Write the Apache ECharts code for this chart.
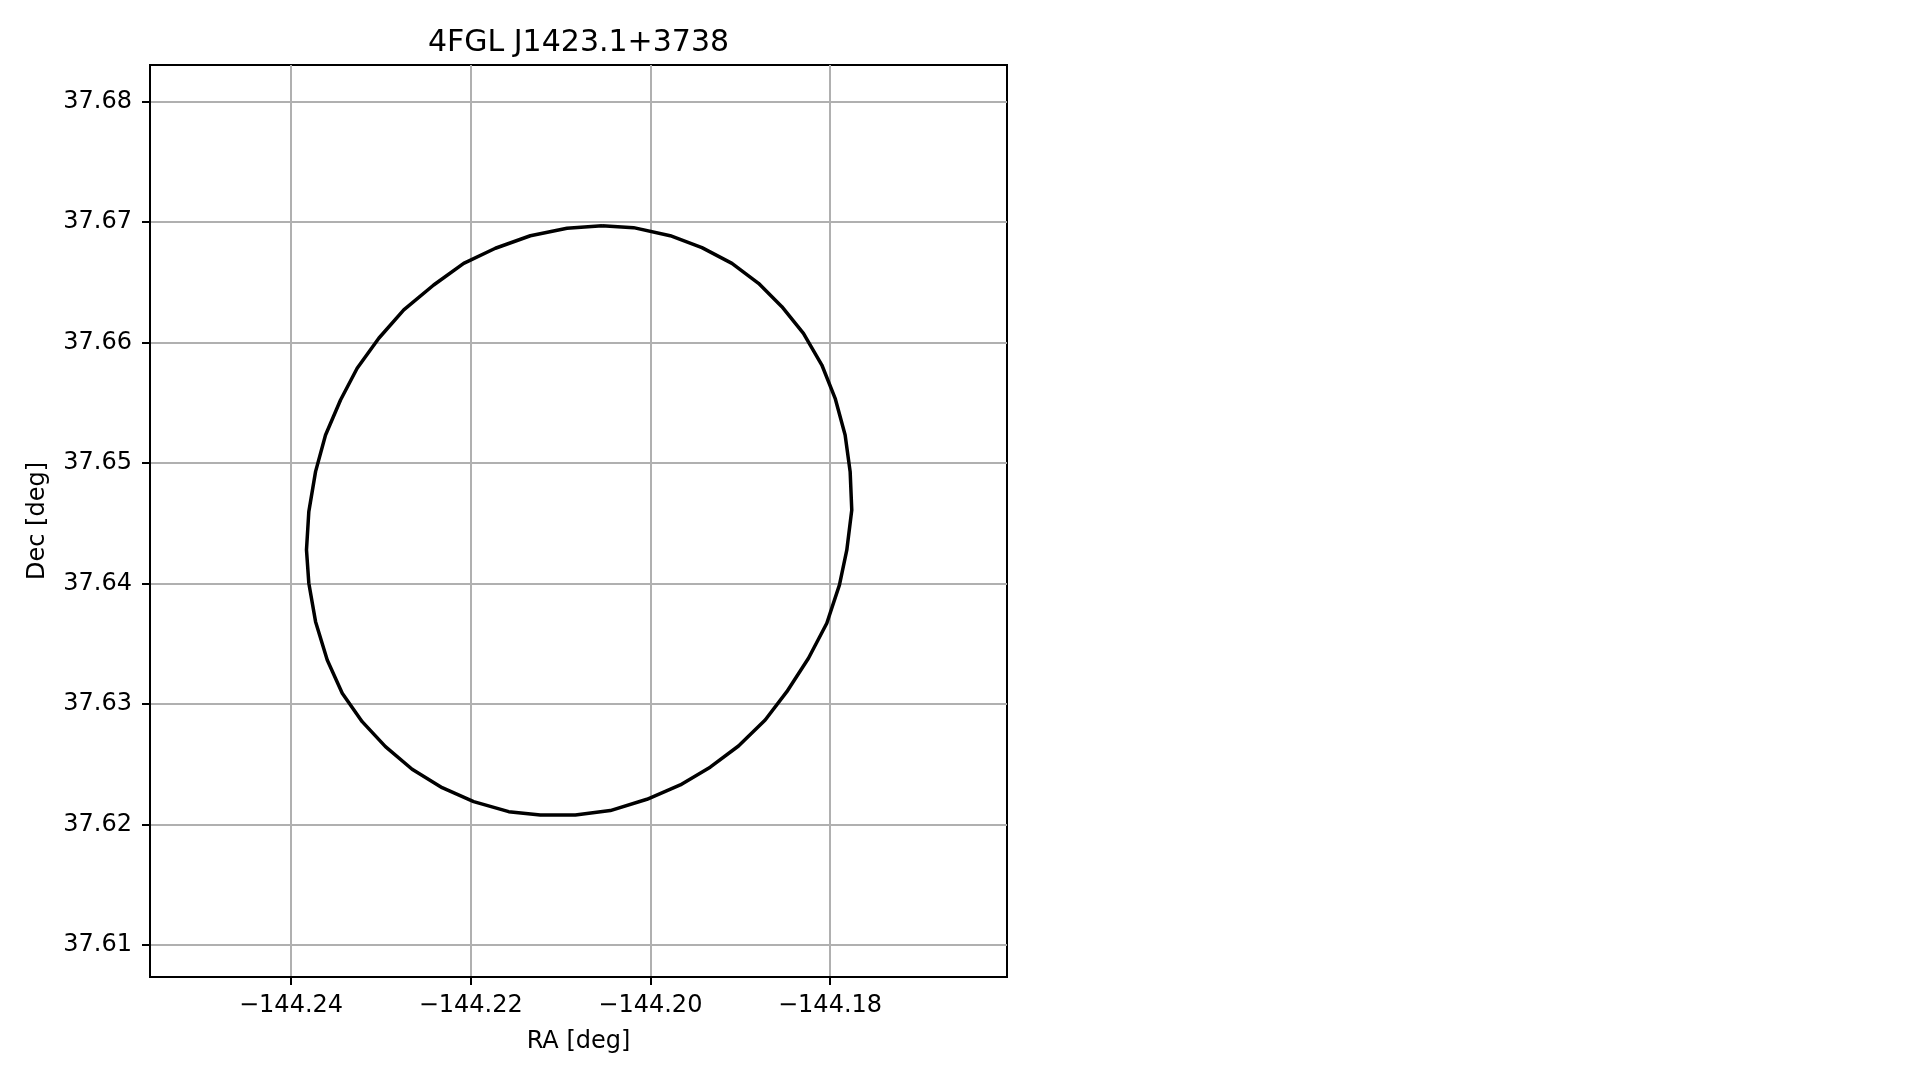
<!DOCTYPE html>
<html>
<head>
<meta charset="utf-8">
<script src="https://cdn.jsdelivr.net/npm/echarts@6/dist/echarts.min.js"></script>
<style>
html,body{margin:0;padding:0;background:#fff;}
#chart{width:1919px;height:1080px;}
</style>
</head>
<body>
<div id="chart"></div>
<script>
// Chart data
const titleText = '4FGL J1423.1+3738';
const xName = 'RA [deg]';
const yName = 'Dec [deg]';
const xRange = [-144.2557, -144.1603];
const yRange = [37.60734, 37.68303];
const xTicks = [-144.24, -144.22, -144.20, -144.18];
const yTicks = [37.61, 37.62, 37.63, 37.64, 37.65, 37.66, 37.67, 37.68];

// Error-ellipse contour vertices
const raVals = [
  -144.20538, -144.20187, -144.19779, -144.19426, -144.19092, -144.18796, -144.18536, -144.18296,
  -144.18091, -144.17943, -144.17832, -144.17776, -144.17758, -144.17813, -144.17895, -144.18036,
  -144.18240, -144.18481, -144.18722, -144.19019, -144.19334, -144.19667, -144.20038, -144.20446,
  -144.20835, -144.21225, -144.21577, -144.21967, -144.22318, -144.22652, -144.22949, -144.23208,
  -144.23430, -144.23597, -144.23727, -144.23802, -144.23828, -144.23802, -144.23727, -144.23616,
  -144.23449, -144.23264, -144.23023, -144.22745, -144.22412, -144.22078, -144.21725, -144.21336,
  -144.20928, -144.20538
];
const decVals = [
  37.66969, 37.66953, 37.66886, 37.66787, 37.66657, 37.66491, 37.66297, 37.66076,
  37.65813, 37.65537, 37.65232, 37.64928, 37.64610, 37.64278, 37.63988, 37.63670,
  37.63379, 37.63102, 37.62867, 37.62651, 37.62475, 37.62328, 37.62209, 37.62115,
  37.62079, 37.62079, 37.62106, 37.62189, 37.62305, 37.62458, 37.62646, 37.62853,
  37.63089, 37.63365, 37.63683, 37.64002, 37.64278, 37.64596, 37.64928, 37.65232,
  37.65523, 37.65786, 37.66035, 37.66270, 37.66477, 37.66657, 37.66782, 37.66886,
  37.66948, 37.66969
];

const contour = raVals.map((r, i) => [r, decVals[i]]);

const FONT = 'DejaVu Sans';
const chart = echarts.init(document.getElementById('chart'), null, {renderer: 'canvas'});

const option = {
  backgroundColor: '#ffffff',
  animation: false,
  title: {
    text: titleText,
    left: 578.5,
    top: 28,
    padding: 0,
    textAlign: 'center',
    textStyle: {fontFamily: FONT, fontSize: 30, fontWeight: 'normal', color: '#000'}
  },
  grid: {
    left: 150, top: 65, width: 857, height: 912,
    show: true, borderColor: '#000', borderWidth: 2, backgroundColor: 'transparent'
  },
  xAxis: {
    type: 'value',
    min: xRange[0], max: xRange[1],
    name: xName,
    nameLocation: 'middle',
    nameGap: 53,
    nameTextStyle: {fontFamily: FONT, fontSize: 24, color: '#000'},
    axisLine: {show: true, onZero: false, lineStyle: {color: '#000', width: 2}},
    axisTick: {show: true, inside: false, length: 8, lineStyle: {color: '#000', width: 2}, customValues: xTicks},
    axisLabel: {
      customValues: xTicks,
      margin: 17,
      fontFamily: FONT, fontSize: 24, color: '#000',
      formatter: v => (v < 0 ? '\u2212' : '') + Math.abs(v).toFixed(2)
    },
    splitLine: {show: true, lineStyle: {color: '#b0b0b0', width: 2}}
  },
  yAxis: {
    type: 'value',
    min: yRange[0], max: yRange[1],
    name: yName,
    nameLocation: 'middle',
    nameGap: 100,
    nameRotate: 90,
    nameTextStyle: {fontFamily: FONT, fontSize: 24, color: '#000'},
    axisLine: {show: true, onZero: false, lineStyle: {color: '#000', width: 2}},
    axisTick: {show: true, inside: false, length: 8, lineStyle: {color: '#000', width: 2}, customValues: yTicks},
    axisLabel: {
      customValues: yTicks,
      margin: 18,
      fontFamily: FONT, fontSize: 24, color: '#000',
      formatter: v => v.toFixed(2)
    },
    splitLine: {show: true, lineStyle: {color: '#b0b0b0', width: 2}}
  },
  series: [{
    type: 'line',
    data: contour,
    showSymbol: false,
    symbol: 'none',
    smooth: false,
    lineStyle: {color: '#000', width: 3.5, join: 'round'},
    z: 3
  }]
};
chart.setOption(option);
</script>
</body>
</html>
